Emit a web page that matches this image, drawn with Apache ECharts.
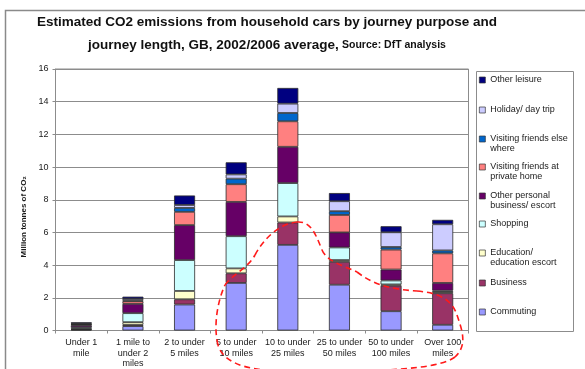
<!DOCTYPE html>
<html>
<head>
<meta charset="utf-8">
<script src="https://cdn.jsdelivr.net/npm/echarts@6/dist/echarts.min.js"></script>
<style>
  html, body { margin: 0; padding: 0; background: #ffffff; }
  #chart { width: 585px; height: 369px; }
</style>
</head>
<body>
<div id="chart"></div>
<script>
// Journey length bands (x axis)
const categories = [
  'Under 1\nmile', '1 mile to\nunder 2\nmiles', '2 to under\n5 miles', '5 to under\n10 miles',
  '10 to under\n25 miles', '25 to under\n50 miles', '50 to under\n100 miles', 'Over 100\nmiles'
];

// Million tonnes of CO2 by journey purpose, one value per length band
const commuting         = [0.05, 0.27, 1.59, 2.91, 5.24, 2.80, 1.18, 0.35];
const business          = [0.03, 0.08, 0.32, 0.59, 1.37, 1.40, 1.56, 1.93];
const education         = [0.04, 0.16, 0.51, 0.30, 0.37, 0.11, 0.08, 0.08];
const shopping          = [0.08, 0.55, 1.89, 1.97, 2.04, 0.77, 0.24, 0.08];
const otherPersonal     = [0.12, 0.57, 2.14, 2.10, 2.22, 0.92, 0.67, 0.47];
const visitingPrivate   = [0.05, 0.16, 0.81, 1.08, 1.56, 1.07, 1.22, 1.81];
const visitingElsewhere = [0.02, 0.04, 0.24, 0.34, 0.51, 0.23, 0.16, 0.18];
const holiday           = [0.04, 0.10, 0.18, 0.26, 0.57, 0.61, 0.90, 1.60];
const otherLeisure      = [0.07, 0.14, 0.58, 0.74, 0.96, 0.50, 0.37, 0.27];

// Y axis ticks
const yTicks = [0, 2, 4, 6, 8, 10, 12, 14, 16];

// Stack order, bottom to top
const purposes = [
  { name: 'Commuting', data: commuting, color: '#9999FF' },
  { name: 'Business', data: business, color: '#993366' },
  { name: 'Education/ education escort', data: education, color: '#FFFFCC' },
  { name: 'Shopping', data: shopping, color: '#CCFFFF' },
  { name: 'Other personal business/ escort', data: otherPersonal, color: '#660066' },
  { name: 'Visiting friends at private home', data: visitingPrivate, color: '#FF8080' },
  { name: 'Visiting friends else where', data: visitingElsewhere, color: '#0066CC' },
  { name: 'Holiday/ day trip', data: holiday, color: '#CCCCFF' },
  { name: 'Other leisure', data: otherLeisure, color: '#000080' }
];

// Legend labels as wrapped in the key box (top to bottom)
const legendOrder = [
  ['Other leisure', 'Other leisure'],
  ['Holiday/ day trip', 'Holiday/ day trip'],
  ['Visiting friends else where', 'Visiting friends else\nwhere'],
  ['Visiting friends at private home', 'Visiting friends at\nprivate home'],
  ['Other personal business/ escort', 'Other personal\nbusiness/ escort'],
  ['Shopping', 'Shopping'],
  ['Education/ education escort', 'Education/\neducation escort'],
  ['Business', 'Business'],
  ['Commuting', 'Commuting']
];
const legendIconY = [80, 110, 139, 167, 196, 224, 253, 283, 312];

const font = 'Liberation Sans, Arial, sans-serif';
const chart = echarts.init(document.getElementById('chart'), null, { renderer: 'canvas' });

const legends = legendOrder.map(function (item, i) {
  const label = item[1];
  const lines = label.split('\n').length;
  const lh = 10;
  return {
    orient: 'vertical',
    left: 479,
    top: legendIconY[i] - (lines > 1 ? lh * 1.5 : lh / 2),
    padding: 0,
    icon: 'rect',
    itemWidth: 6,
    itemHeight: 6,
    itemStyle: { borderColor: '#333333', borderWidth: 0.7 },
    selectedMode: false,
    data: [item[0]],
    formatter: function () { return lines > 1 ? ' \n' + label : label; },
    textStyle: { fontFamily: font, fontSize: 9, color: '#1a1a1a', lineHeight: lh }
  };
});

// Dashed highlight loop, as a chain of cubic segments [x1,y1,cp1x,cp1y,cp2x,cp2y,x2,y2]
const loopSegments = [
  [300, 371, 260, 372, 225, 368, 218, 345],
  [218, 345, 213, 325, 218, 300, 225, 285],
  [225, 285, 232, 275, 248, 268, 255, 255],
  [255, 255, 263, 240, 278, 224, 297, 222],
  [297, 222, 310, 221, 315, 232, 322, 250],
  [322, 250, 327, 262, 345, 266, 357, 272],
  [357, 272, 370, 282, 385, 289, 417, 291],
  [417, 291, 440, 293, 452, 300, 457, 315],
  [457, 315, 462, 330, 468, 345, 455, 357],
  [455, 357, 440, 368, 400, 369, 370, 371]
];

const option = {
  animation: false,
  backgroundColor: '#ffffff',
  textStyle: { fontFamily: font },
  legend: legends,
  grid: {
    left: 55.5, right: 116.5, top: 69, bottom: 37.5,
    show: true, borderColor: '#8c8c8c', borderWidth: 1, backgroundColor: 'transparent'
  },
  xAxis: {
    type: 'category',
    data: categories,
    axisLine: { lineStyle: { color: '#8c8c8c', width: 1 } },
    axisTick: { show: true, interval: 0, length: 3, lineStyle: { color: '#8c8c8c' } },
    axisLabel: { interval: 0, fontFamily: font, fontSize: 9, color: '#1a1a1a', lineHeight: 10.5, margin: 7 }
  },
  yAxis: {
    type: 'value',
    min: yTicks[0],
    max: yTicks[yTicks.length - 1],
    interval: yTicks[1] - yTicks[0],
    name: 'Million tonnes of CO\u2082',
    nameLocation: 'middle',
    nameGap: 25,
    nameTextStyle: { fontFamily: font, fontSize: 8, fontWeight: 'bold', color: '#1a1a1a', padding: [0, 34, 0, 0] },
    axisLine: { show: true, lineStyle: { color: '#8c8c8c', width: 1 } },
    axisTick: { show: true, length: 3, lineStyle: { color: '#8c8c8c' } },
    axisLabel: { fontFamily: font, fontSize: 9, color: '#1a1a1a', margin: 7 },
    splitLine: { lineStyle: { color: '#8c8c8c', width: 1 } }
  },
  series: purposes.map(function (p) {
    return {
      name: p.name,
      type: 'bar',
      stack: 'total',
      barWidth: 21,
      data: p.data,
      itemStyle: { color: p.color, borderColor: '#2b2b2b', borderWidth: 0.8 }
    };
  }),
  graphic: [
    // outer frame (left and top edges)
    { type: 'polyline', z: 10, shape: { points: [[5.5, 369], [5.5, 10.5], [585, 10.5]] },
      style: { stroke: '#8a8a8a', lineWidth: 1.5, fill: null } },
    // key box
    { type: 'rect', z: 1, shape: { x: 476.5, y: 71.5, width: 97, height: 260 },
      style: { stroke: '#8c8c8c', lineWidth: 1, fill: '#ffffff' } },
    // title
    { type: 'text', z: 10, x: 267, y: 11,
      style: {
        text: '{m|Estimated CO2 emissions from household cars by journey purpose and}\n{m|journey length, GB, 2002/2006 average,} {s|Source: DfT analysis}',
        align: 'center', verticalAlign: 'top',
        rich: {
          m: { fontFamily: font, fontSize: 13.5, fontWeight: 'bold', fill: '#111', lineHeight: 23 },
          s: { fontFamily: font, fontSize: 10.5, fontWeight: 'bold', fill: '#111', lineHeight: 23 }
        }
      }
    }
  ].concat(loopSegments.map(function (s) {
    return {
      type: 'bezierCurve', z: 20,
      shape: { x1: s[0], y1: s[1], cpx1: s[2], cpy1: s[3], cpx2: s[4], cpy2: s[5], x2: s[6], y2: s[7] },
      style: { stroke: '#ff1a1a', lineWidth: 1.6, fill: null, lineDash: [6, 4] }
    };
  }))
};

chart.setOption(option);
</script>
</body>
</html>
